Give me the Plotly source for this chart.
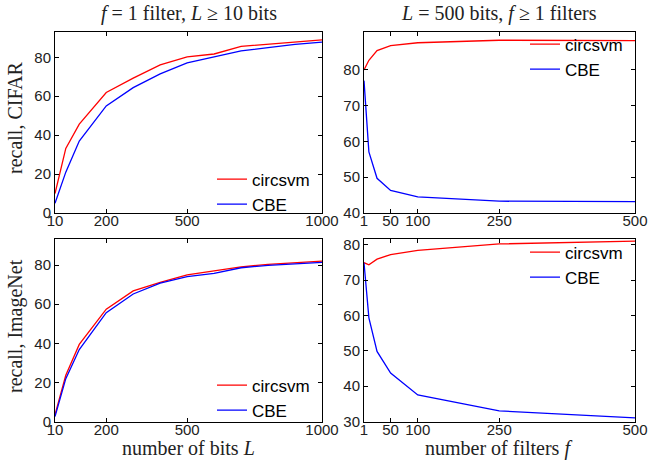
import plotly.graph_objects as go

# ---------------- data ----------------
bits_L = [10, 50, 100, 200, 300, 400, 500, 600, 700, 800, 900, 1000]
cifar_circsvm_L = [10.0, 33.2, 45.7, 61.9, 69.3, 76.1, 80.2, 81.7, 85.6, 86.7, 87.8, 89.0]
cifar_cbe_L = [5.0, 21.0, 37.0, 55.0, 64.4, 71.5, 77.1, 80.2, 83.3, 85.0, 86.6, 87.8]
imagenet_circsvm_L = [3.5, 23.6, 39.4, 57.4, 66.8, 71.1, 75.0, 77.2, 79.1, 80.3, 81.2, 82.0]
imagenet_cbe_L = [2.5, 21.9, 36.8, 55.6, 65.2, 70.7, 74.1, 75.7, 78.6, 79.8, 80.6, 81.3]

filters_f = [1, 10, 25, 50, 100, 250, 500]
cifar_circsvm_f = [80.0, 82.7, 85.4, 86.8, 87.6, 88.3, 88.2]
cifar_cbe_f = [77.0, 57.1, 49.7, 46.3, 44.5, 43.3, 43.2]
imagenet_circsvm_f = [74.9, 74.3, 75.9, 77.2, 78.4, 80.2, 81.0]
imagenet_cbe_f = [74.9, 59.3, 49.8, 43.7, 37.5, 33.0, 31.0]

x_ticks_L = [10, 200, 500, 1000]
x_ticks_f = [1, 50, 100, 250, 500]

W, H = 649, 463
RED, BLUE = "#ff0000", "#0000ff"
SANS = "Liberation Sans, Arial, Helvetica, sans-serif"
SERIF = "Liberation Serif, Times New Roman, serif"


def px_x(v):
    return v / W


def px_y(v):
    return 1 - v / H


fig = go.Figure()

panels = [
    ("x", "y", "legend", bits_L, cifar_circsvm_L, cifar_cbe_L),
    ("x2", "y2", "legend2", filters_f, cifar_circsvm_f, cifar_cbe_f),
    ("x3", "y3", "legend3", bits_L, imagenet_circsvm_L, imagenet_cbe_L),
    ("x4", "y4", "legend4", filters_f, imagenet_circsvm_f, imagenet_cbe_f),
]
for xa, ya, lg, xs, red, blue in panels:
    fig.add_trace(go.Scatter(x=xs, y=red, mode="lines", name="circsvm",
                             line=dict(color=RED, width=1.3), xaxis=xa, yaxis=ya, legend=lg))
    fig.add_trace(go.Scatter(x=xs, y=blue, mode="lines", name="CBE",
                             line=dict(color=BLUE, width=1.3), xaxis=xa, yaxis=ya, legend=lg))

xl = [px_x(55), px_x(322)]
xr = [px_x(364), px_x(635)]
yt = [px_y(213), px_y(32)]
yb = [px_y(421.5), px_y(239)]

common = dict(showline=True, linecolor="black", linewidth=1, mirror="allticks",
              ticks="inside", ticklen=4, tickcolor="black", tickwidth=1,
              showgrid=False, zeroline=False, automargin=False,
              tickfont=dict(family=SANS, size=15, color="#222"))
xcommon = dict(ticklabelstandoff=-6, **common)

fig.update_layout(
    xaxis=dict(domain=xl, anchor="y", range=[10, 1000], tickvals=x_ticks_L, **xcommon),
    yaxis=dict(domain=yt, anchor="x", range=[0, 93], tickvals=[0, 20, 40, 60, 80], **common),
    xaxis2=dict(domain=xr, anchor="y2", range=[1, 500], tickvals=x_ticks_f, **xcommon),
    yaxis2=dict(domain=yt, anchor="x2", range=[40, 90.6], tickvals=[40, 50, 60, 70, 80], **common),
    xaxis3=dict(domain=xl, anchor="y3", range=[10, 1000], tickvals=x_ticks_L, **xcommon),
    yaxis3=dict(domain=yb, anchor="x3", range=[0, 93.3], tickvals=[0, 20, 40, 60, 80], **common),
    xaxis4=dict(domain=xr, anchor="y4", range=[1, 500], tickvals=x_ticks_f, **xcommon),
    yaxis4=dict(domain=yb, anchor="x4", range=[30, 81.6], tickvals=[30, 40, 50, 60, 70, 80], **common),
)

leg_common = dict(bgcolor="rgba(0,0,0,0)", borderwidth=0, font=dict(family=SANS, size=17, color="black"),
                  xanchor="left", yanchor="middle", itemwidth=30, tracegroupgap=0)
fig.update_layout(
    legend=dict(x=px_x(212), y=px_y(192), **leg_common),
    legend2=dict(x=px_x(525), y=px_y(57), **leg_common),
    legend3=dict(x=px_x(212), y=px_y(398), **leg_common),
    legend4=dict(x=px_x(525), y=px_y(265), **leg_common),
)

annotations = [
    dict(text="<i>f</i> = 1 filter, <i>L</i> ≥ 10 bits", x=px_x(188.5), y=px_y(13), size=20),
    dict(text="<i>L</i> = 500 bits, <i>f</i> ≥ 1 filters", x=px_x(499), y=px_y(13), size=20),
    dict(text="number of bits <i>L</i>", x=px_x(188), y=px_y(448), size=20),
    dict(text="number of filters <i>f</i>", x=px_x(498), y=px_y(448), size=20),
]
for a in annotations:
    fig.add_annotation(text=a["text"], x=a["x"], y=a["y"], xref="paper", yref="paper",
                       showarrow=False, xanchor="center", yanchor="middle",
                       font=dict(family=SERIF, size=a["size"], color="#222"))
for txt, yc in [("recall, CIFAR", 118), ("recall, ImageNet", 326)]:
    fig.add_annotation(text=txt, x=px_x(15), y=px_y(yc), xref="paper", yref="paper",
                       showarrow=False, textangle=-90, xanchor="center", yanchor="middle",
                       font=dict(family=SERIF, size=20, color="#222"))

fig.update_layout(width=W, height=H, margin=dict(l=0, r=0, t=0, b=0, pad=0, autoexpand=False),
                  paper_bgcolor="white", plot_bgcolor="white", showlegend=True)

fig.write_html("out.html", config={"displayModeBar": False},
               post_script="document.body.style.margin='0';document.body.style.overflow='hidden';")
